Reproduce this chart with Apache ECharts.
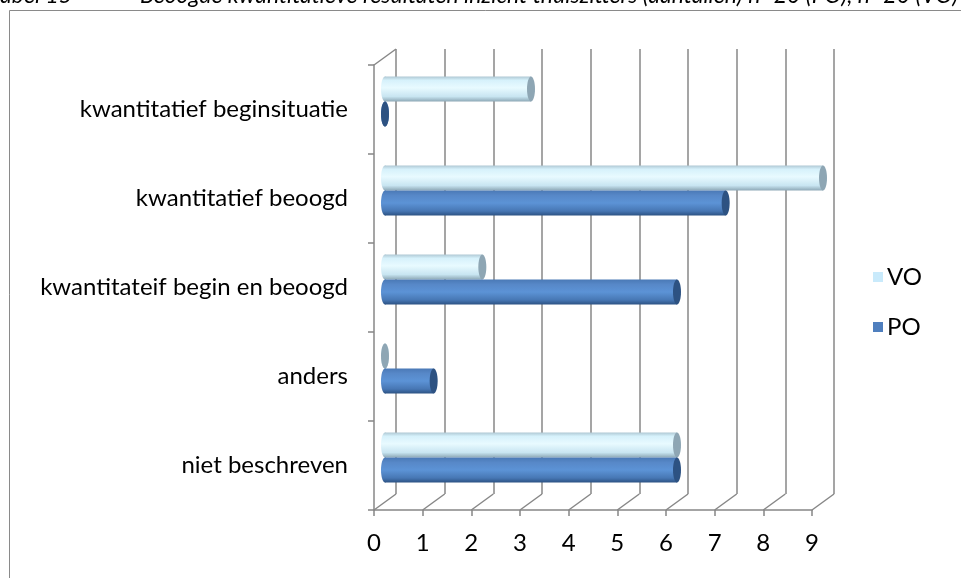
<!DOCTYPE html>
<html>
<head>
<meta charset="utf-8">
<script src="https://cdn.jsdelivr.net/npm/echarts@6/dist/echarts.min.js"></script>
<style>
  html, body { margin: 0; padding: 0; background: #fff; }
  #chart { width: 961px; height: 578px; }
</style>
</head>
<body>
<div id="chart"></div>
<script>
// data
const categories = [
  'kwantitatief beginsituatie',
  'kwantitatief beoogd',
  'kwantitateif begin en beoogd',
  'anders',
  'niet beschreven'
]
const voValues = [3, 9, 2, 0, 6]
const poValues = [0, 7, 6, 1, 6]
const xTicks = [0, 1, 2, 3, 4, 5, 6, 7, 8, 9]

// depth of the 3D box (back wall offset)
const DX = 22
const DY = -16
const BAR_H = 25
const GRID_COLOR = '#878787'
const FONT = 'Lato, "Open Sans", sans-serif'

const chart = echarts.init(document.getElementById('chart'))

const styles = {
  vo: {
    body: new echarts.graphic.LinearGradient(0, 0, 0, 1, [
      { offset: 0, color: '#AFC8D4' },
      { offset: 0.15, color: '#D6F1FB' },
      { offset: 0.45, color: '#E8FAFF' },
      { offset: 0.8, color: '#C8E5F1' },
      { offset: 1, color: '#8DA8B6' }
    ]),
    cap: '#8EA6B4'
  },
  po: {
    body: new echarts.graphic.LinearGradient(0, 0, 0, 1, [
      { offset: 0, color: '#4A79B6' },
      { offset: 0.2, color: '#5788C8' },
      { offset: 0.5, color: '#5C93D6' },
      { offset: 0.82, color: '#4777B4' },
      { offset: 1, color: '#2C5283' }
    ]),
    cap: '#2D5282'
  }
}

// horizontal cylinder, sitting half way into the box
function cylinder(kind) {
  return function (params, api) {
    const v = api.value(0)
    const c = api.value(1)
    const p0 = api.coord([0, c])
    const p1 = api.coord([v, c])
    const x0 = p0[0] + DX / 2
    const x1 = p1[0] + DX / 2
    const cy = p0[1] + DY / 2
    const y = kind === 'vo' ? cy - BAR_H : cy
    const st = styles[kind]
    const children = [
      { type: 'ellipse', shape: { cx: x0, cy: y + BAR_H / 2, rx: 4, ry: BAR_H / 2 }, style: { fill: st.body } }
    ]
    if (x1 > x0) {
      children.push({ type: 'rect', shape: { x: x0, y: y, width: x1 - x0, height: BAR_H }, style: { fill: st.body } })
    }
    children.push({ type: 'ellipse', shape: { cx: x1, cy: y + BAR_H / 2, rx: 4, ry: BAR_H / 2 }, style: { fill: st.cap } })
    return { type: 'group', children }
  }
}

// floor diagonals + top left edge of the box
function boxFrame(params, api) {
  const k = api.value(0)
  const cs = params.coordSys
  const x = api.coord([k, 0])[0]
  const bottom = cs.y + cs.height
  const lineStyle = { stroke: GRID_COLOR, lineWidth: 1.5 }
  const children = [
    { type: 'line', shape: { x1: x, y1: bottom, x2: x + DX, y2: bottom + DY }, style: lineStyle }
  ]
  if (params.dataIndex === 0) {
    children.push({ type: 'line', shape: { x1: cs.x, y1: cs.y, x2: cs.x + DX, y2: cs.y + DY }, style: lineStyle })
  }
  return { type: 'group', children }
}

const option = {
  animation: false,
  backgroundColor: '#fff',
  textStyle: { fontFamily: FONT },
  graphic: [
    { type: 'rect', x: 9.5, y: 10.5, shape: { width: 2000, height: 2000 }, style: { fill: 'none', stroke: '#8a8a8a', lineWidth: 1 }, silent: true },
    { type: 'text', x: -10, y: -4, style: { text: 'Tabel 15', font: 'italic 23px ' + FONT, fill: '#000', verticalAlign: 'middle' } },
    { type: 'text', x: 140, y: -4, style: { text: 'Beoogde kwantitatieve resultaten inzicht thuiszitters (aantallen) n=20 (PO), n=20 (VO)', font: 'italic 23px ' + FONT, fill: '#000', verticalAlign: 'middle' } }
  ],
  legend: {
    data: [
      { name: 'VO', itemStyle: { color: '#C9EAFB' } },
      { name: 'PO', itemStyle: { color: '#4F7FBE' } }
    ],
    orient: 'vertical',
    left: 868,
    top: 259,
    icon: 'rect',
    itemWidth: 10,
    itemHeight: 10,
    itemGap: 24,
    textStyle: { fontSize: 24, lineHeight: 26, color: '#000', fontFamily: FONT, padding: [0, 0, 0, -1] }
  },
  grid: [
    { left: 374, right: 149, top: 65, bottom: 68 },
    { left: 374 + DX, right: 149 - DX, top: 65 + DY, bottom: 68 - DY }
  ],
  xAxis: [
    {
      gridIndex: 0,
      type: 'value',
      min: 0,
      max: 9,
      interval: 1,
      axisLine: { show: true, lineStyle: { color: GRID_COLOR, width: 1.5 } },
      axisTick: { show: true, length: 6, lineStyle: { color: GRID_COLOR, width: 1.5 } },
      axisLabel: { fontSize: 24, color: '#000', margin: 21, fontFamily: FONT },
      splitLine: { show: false }
    },
    {
      gridIndex: 1,
      type: 'value',
      min: 0,
      max: 9,
      interval: 1,
      axisLine: { show: false },
      axisTick: { show: false },
      axisLabel: { show: false },
      splitLine: { show: true, lineStyle: { color: GRID_COLOR, width: 1.5 } }
    }
  ],
  yAxis: [
    {
      gridIndex: 0,
      type: 'category',
      inverse: true,
      data: categories,
      axisLine: { show: true, lineStyle: { color: GRID_COLOR, width: 1.5 } },
      axisTick: { show: true, length: 6, lineStyle: { color: GRID_COLOR, width: 1.5 } },
      axisLabel: { fontSize: 24, color: '#000', margin: 26, fontFamily: FONT },
      splitLine: { show: false }
    },
    {
      gridIndex: 1,
      type: 'value',
      min: 0,
      max: 1,
      show: false
    }
  ],
  series: [
    {
      type: 'custom',
      name: 'frame',
      xAxisIndex: 0,
      yAxisIndex: 0,
      z: 1,
      silent: true,
      renderItem: boxFrame,
      encode: { x: 0, y: 1 },
      data: xTicks.map(k => [k, 0])
    },
    {
      type: 'custom',
      name: 'VO',
      xAxisIndex: 0,
      yAxisIndex: 0,
      z: 3,
      itemStyle: { color: '#C9EAFB' },
      renderItem: cylinder('vo'),
      encode: { x: 0, y: 1 },
      data: voValues.map((v, i) => [v, i])
    },
    {
      type: 'custom',
      name: 'PO',
      xAxisIndex: 0,
      yAxisIndex: 0,
      z: 3,
      itemStyle: { color: '#4F7FBE' },
      renderItem: cylinder('po'),
      encode: { x: 0, y: 1 },
      data: poValues.map((v, i) => [v, i])
    }
  ]
}

chart.setOption(option)
</script>
</body>
</html>
